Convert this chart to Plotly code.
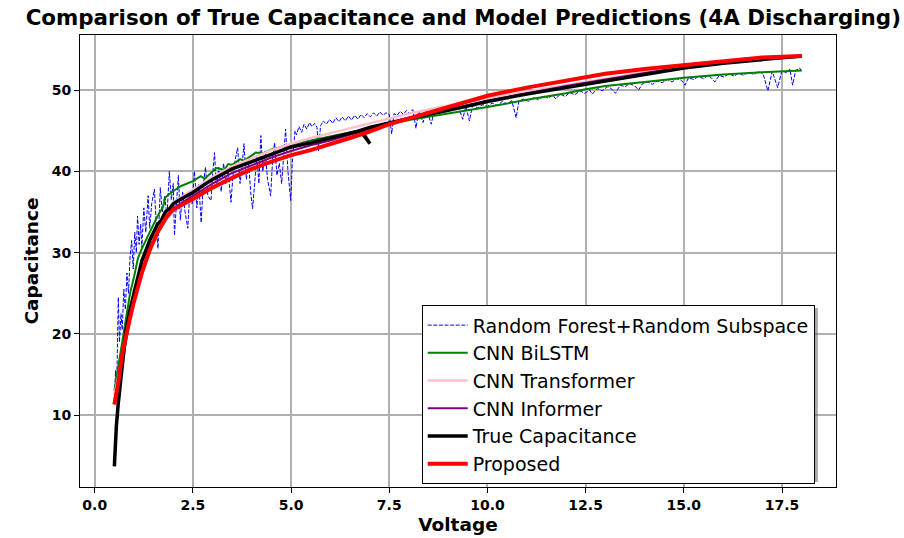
import plotly.graph_objects as go

# ---------------- data ----------------
rf_x = [0.50, 0.53, 0.56, 0.60, 0.63, 0.67, 0.70, 0.74, 0.78, 0.82, 0.86, 0.90, 0.94, 0.98,
        1.02, 1.06, 1.09, 1.13, 1.17, 1.20, 1.25, 1.30, 1.36, 1.40, 1.45, 1.52, 1.56, 1.61,
        1.67, 1.72, 1.78, 1.84, 1.90, 1.95, 2.00, 2.03, 2.08, 2.13, 2.18, 2.24, 2.30, 2.37,
        2.42, 2.48, 2.54, 2.60, 2.65, 2.71, 2.76, 2.82, 2.88, 2.96, 3.00, 3.05, 3.10, 3.16,
        3.22, 3.28, 3.34, 3.40, 3.47, 3.52, 3.58, 3.64, 3.70, 3.75, 3.80, 3.86, 3.92, 3.97,
        4.02, 4.08, 4.13, 4.18, 4.23, 4.28, 4.34, 4.40, 4.48, 4.53, 4.58, 4.64, 4.70, 4.76,
        4.82, 4.86, 4.92, 4.99, 5.03, 5.07, 5.10, 5.14, 5.20, 5.27, 5.33, 5.40, 5.47, 5.53,
        5.60, 5.66, 5.70, 5.75, 5.82, 5.90, 5.98, 6.06, 6.14, 6.22, 6.30, 6.38, 6.46, 6.54,
        6.62, 6.70, 6.78, 6.86, 6.94, 7.02, 7.10, 7.18, 7.26, 7.34, 7.42, 7.50, 7.56, 7.62,
        7.70, 7.78, 7.86, 7.94, 8.02, 8.10, 8.18, 8.25, 8.36, 8.45, 8.57, 8.65, 8.75, 8.85,
        8.95, 9.05, 9.15, 9.25, 9.37, 9.45, 9.54, 9.62, 9.75, 9.88, 10.00, 10.12, 10.25,
        10.38, 10.50, 10.62, 10.73, 10.80, 10.92, 11.05, 11.18, 11.30, 11.42, 11.55, 11.66,
        11.74, 11.85, 11.98, 12.10, 12.22, 12.35, 12.48, 12.60, 12.67, 12.80, 12.92, 13.05,
        13.15, 13.26, 13.38, 13.50, 13.62, 13.75, 13.85, 13.95, 14.08, 14.20, 14.32, 14.45,
        14.58, 14.70, 14.82, 14.94, 15.03, 15.12, 15.25, 15.38, 15.50, 15.62, 15.70, 15.79,
        15.90, 16.02, 16.15, 16.28, 16.40, 16.52, 16.65, 16.78, 16.90, 17.02, 17.14, 17.25,
        17.39, 17.50, 17.62, 17.70, 17.77, 17.85, 17.95, 18.00]
rf_y = [12.0, 15.5, 13.5, 24.5, 19.0, 22.5, 20.5, 25.5, 23.0, 27.5, 25.0, 29.5, 31.5, 28.0,
        32.5, 30.0, 34.5, 31.0, 33.5, 30.6, 35.5, 32.5, 37.0, 33.0, 36.0, 37.8, 34.0, 30.5,
        38.0, 35.0, 37.0, 34.5, 40.0, 36.5, 38.5, 32.1, 36.0, 39.5, 34.0, 37.5, 35.0, 33.0,
        37.5, 36.0, 40.0, 35.5, 38.5, 33.7, 38.0, 40.5, 37.0, 36.4, 39.5, 42.3, 38.0, 40.5,
        37.5, 41.0, 38.5, 40.0, 36.2, 39.5, 41.5, 42.9, 38.5, 40.5, 43.4, 39.0, 41.0, 37.5,
        35.4, 39.5, 42.0, 38.5, 44.4, 40.0, 42.5, 39.0, 37.0, 41.5, 43.5, 39.5, 41.0, 38.5,
        42.0, 45.2, 40.0, 36.4, 41.0, 43.4, 45.0, 44.5, 45.5, 44.8, 45.8, 45.2, 46.0, 45.5,
        45.9, 45.4, 42.5, 45.6, 46.2, 45.8, 46.4, 45.9, 46.6, 46.1, 46.7, 46.2, 46.8, 46.3,
        46.9, 46.4, 47.0, 46.6, 47.1, 46.7, 47.2, 46.8, 47.3, 46.9, 47.2, 47.0, 44.6, 47.1,
        46.9, 47.4, 47.0, 47.5, 47.1, 47.6, 45.3, 47.5, 46.0, 47.6, 45.8, 47.7, 47.4, 47.9,
        47.5, 48.0, 47.6, 48.1, 46.4, 48.0, 46.2, 48.1, 47.8, 48.2, 48.0, 48.4, 48.1,
        48.6, 48.3, 48.7, 46.6, 48.6, 48.9, 48.6, 49.1, 48.8, 49.3, 49.0, 49.4,
        48.9, 49.5, 49.2, 49.7, 49.4, 49.9, 49.6, 50.0, 49.5, 50.2, 49.9, 50.4,
        50.2, 49.6, 50.6, 50.4, 50.8, 50.5, 50.0, 50.8, 51.0, 50.7, 51.1, 50.9,
        51.3, 51.0, 51.4, 51.2, 50.6, 51.5, 51.3, 51.7, 51.4, 51.8, 51.5, 51.0,
        51.8, 51.6, 52.0, 51.7, 52.1, 51.8, 52.2, 51.9, 52.3, 52.0, 49.9, 52.3,
        50.3, 52.4, 52.1, 52.6, 50.6, 52.4, 52.7, 52.3]

bilstm_x = [0.50, 0.60, 0.70, 0.80, 0.90, 1.00, 1.10, 1.20, 1.40, 1.60, 1.74, 1.80, 1.95,
            2.20, 2.50, 2.70, 2.80, 3.00, 3.10, 3.30, 3.40, 3.50, 3.70, 3.80, 4.00, 4.10,
            4.30, 4.50, 5.00, 5.50, 6.00, 6.50, 7.00, 7.50, 8.00, 9.00, 10.00, 11.00,
            12.00, 12.50, 13.00, 14.00, 15.00, 16.00, 17.00, 18.00]
bilstm_y = [13.0, 16.0, 19.5, 22.5, 25.0, 27.0, 29.3, 30.5, 32.5, 34.5, 35.6, 36.8, 37.4,
            38.2, 38.8, 39.4, 39.1, 39.9, 40.4, 40.2, 40.9, 40.8, 41.5, 41.3, 41.9, 42.3,
            42.2, 42.7, 43.3, 43.8, 44.3, 44.8, 45.3, 45.8, 46.3, 47.1, 47.9, 48.8,
            49.6, 50.1, 50.5, 51.0, 51.5, 51.9, 52.2, 52.4]

transformer_x = [0.50, 0.70, 1.00, 1.40, 2.00, 2.50, 3.00, 3.50, 4.00, 4.50, 5.00, 5.50,
                 6.00, 6.50, 7.00, 7.50, 8.00, 8.50, 9.00, 10.00, 11.00, 12.00, 13.00,
                 14.00, 15.00, 16.00, 17.00, 18.00]
transformer_y = [12.5, 17.0, 25.5, 31.8, 36.2, 37.8, 39.3, 40.6, 41.6, 42.6, 43.4, 44.1,
                 44.7, 45.3, 45.9, 46.5, 47.1, 47.6, 48.1, 49.0, 49.8, 50.6, 51.4,
                 52.2, 52.9, 53.4, 53.9, 54.2]

informer_x = [0.50, 0.70, 1.00, 1.40, 2.00, 2.50, 3.00, 3.50, 4.00, 4.50, 5.00, 5.50, 6.00,
              6.50, 7.00, 7.50, 8.00, 9.00, 10.00, 11.00, 12.00, 13.00, 14.00, 15.00,
              16.00, 17.00, 18.00]
informer_y = [11.8, 16.5, 24.5, 30.8, 35.5, 37.0, 38.5, 39.8, 40.8, 41.7, 42.5, 43.2, 43.8,
              44.5, 45.2, 45.9, 46.5, 47.6, 48.7, 49.6, 50.5, 51.3, 52.1, 52.8,
              53.3, 53.8, 54.1]

true_x = [0.50, 0.52, 0.55, 0.60, 0.70, 0.80, 0.90, 1.00, 1.20, 1.40, 1.60, 1.70, 1.80, 1.90,
          2.00, 2.20, 2.50, 2.80, 3.00, 3.50, 4.00, 4.50, 5.00, 5.50, 6.00, 6.50, 6.76,
          7.01, 6.78, 7.00, 7.50, 8.00, 9.00, 10.00, 11.00, 12.00, 12.50, 13.00, 14.00,
          15.00, 16.00, 17.00, 18.00]
true_y = [3.7, 6.0, 8.6, 11.5, 16.0, 20.5, 23.0, 25.0, 29.0, 31.5, 33.5, 34.0, 35.0, 35.4,
          36.0, 36.6, 37.4, 38.4, 39.0, 40.3, 41.2, 42.2, 43.0, 43.5, 44.1, 44.7, 45.0,
          43.4, 45.05, 45.4, 46.0, 46.5, 47.5, 48.6, 49.5, 50.3, 50.7, 51.2, 52.0,
          52.7, 53.3, 53.8, 54.2]

proposed_x = [0.50, 0.60, 0.70, 0.80, 0.90, 1.00, 1.20, 1.40, 1.60, 1.80, 2.00, 2.50, 3.00,
              3.50, 4.00, 4.50, 5.00, 5.50, 6.00, 6.50, 7.00, 7.50, 8.00, 9.00, 10.00,
              11.00, 12.00, 12.50, 13.00, 14.00, 15.00, 16.00, 17.00, 18.00]
proposed_y = [11.3, 14.0, 17.5, 20.0, 22.0, 24.0, 27.5, 30.3, 32.5, 34.2, 35.3, 36.6, 38.0,
              39.2, 40.3, 41.2, 42.0, 42.6, 43.3, 44.1, 44.9, 45.8, 46.5, 47.9, 49.3,
              50.3, 51.1, 51.6, 52.0, 52.6, 53.1, 53.6, 54.0, 54.2]

x_ticks = [0.0, 2.5, 5.0, 7.5, 10.0, 12.5, 15.0, 17.5]
y_ticks = [10, 20, 30, 40, 50]

# ---------------- figure ----------------
FONT = "DejaVu Sans"
fig = go.Figure()
fig.add_trace(go.Scatter(x=rf_x, y=rf_y, mode="lines", name="Random Forest+Random Subspace",
                         line=dict(color="blue", width=1, dash="4px,1.6px")))
fig.add_trace(go.Scatter(x=bilstm_x, y=bilstm_y, mode="lines", name="CNN BiLSTM",
                         line=dict(color="green", width=2)))
fig.add_trace(go.Scatter(x=transformer_x, y=transformer_y, mode="lines", name="CNN Transformer",
                         line=dict(color="pink", width=2.5)))
fig.add_trace(go.Scatter(x=informer_x, y=informer_y, mode="lines", name="CNN Informer",
                         line=dict(color="purple", width=2)))
fig.add_trace(go.Scatter(x=true_x, y=true_y, mode="lines", name="True Capacitance",
                         line=dict(color="black", width=3.5)))
fig.add_trace(go.Scatter(x=proposed_x, y=proposed_y, mode="lines", name="Proposed",
                         line=dict(color="red", width=4)))

axis_common = dict(showline=True, linecolor="black", linewidth=1, mirror=True,
                   ticks="outside", ticklen=5, tickwidth=1, tickcolor="black",
                   showgrid=True, gridcolor="#b0b0b0", gridwidth=1.5, zeroline=False,
                   automargin=False,
                   tickfont=dict(family=FONT, size=14, color="black", weight="bold"))

fig.update_layout(
    width=904, height=538,
    margin=dict(l=80, r=68, t=35, b=51),
    paper_bgcolor="white", plot_bgcolor="white",
    font=dict(family=FONT, color="black"),
    title=dict(text="Comparison of True Capacitance and Model Predictions (4A Discharging)",
               x=0.507, xref="paper", xanchor="center",
               y=1 - 18 / 538, yref="container", yanchor="middle",
               font=dict(family=FONT, size=21.4, color="black", weight="bold")),
    xaxis=dict(range=[-0.375, 18.875], tickvals=x_ticks,
               ticktext=[f"{v:.1f}" for v in x_ticks],
               title=dict(text="Voltage", standoff=6,
                          font=dict(family=FONT, size=18.5, color="black", weight="bold")),
               **axis_common),
    yaxis=dict(range=[1.17, 56.77], tickvals=y_ticks,
               title=dict(text="Capacitance", standoff=8,
                          font=dict(family=FONT, size=18.5, color="black", weight="bold")),
               **axis_common),
    legend=dict(x=0.452, y=0.006, xanchor="left", yanchor="bottom",
                bgcolor="white", bordercolor="black", borderwidth=1,
                font=dict(family=FONT, size=19, color="black"),
                tracegroupgap=0, itemwidth=40),
    shapes=[dict(type="rect", xref="paper", yref="paper",
                 x0=0.456, x1=0.976, y0=0.011, y1=0.396,
                 fillcolor="#555555", line=dict(width=0), layer="above", opacity=0.5)],
)

fig.write_html("out.html")
